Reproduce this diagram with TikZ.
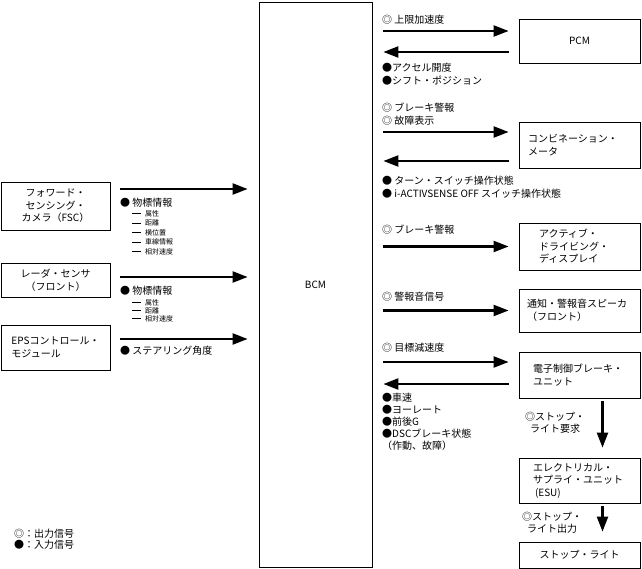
\documentclass[tikz,border=0pt]{standalone}
\usepackage{fontspec}
\setmainfont{Noto Sans CJK JP}
\usetikzlibrary{arrows.meta,positioning}
\newcommand{\subdash}{\rule[0.3em]{9pt}{0.6pt}\hspace{4pt}}

\begin{document}
\begin{tikzpicture}[
  x=1pt, y=-1pt,
  every node/.style={font=\fontsize{10}{12.5}\selectfont, inner sep=1pt},
  unit/.style={draw, line width=0.8pt, inner xsep=0pt, inner ysep=0pt},
  lbox/.style={unit, minimum width=109pt, align=center},
  rbox/.style={unit, minimum width=121pt, align=left},
  sig/.style={-{Triangle[length=15pt,width=11pt]}, line width=2.2pt},
  tobox/.style={sig, shorten <=11pt, shorten >=10pt},
  frombox/.style={sig, shorten <=10pt, shorten >=11pt},
  downsig/.style={sig, shorten <=3pt, shorten >=10pt},
  note/.style={anchor=west, align=left},
  sub/.style={anchor=north west, align=left, font=\fontsize{7}{9.5}\selectfont},
]
\useasboundingbox (0,0) rectangle (642,569);

\node[unit, minimum width=113pt, minimum height=565pt] (bcm) at (315.5,284.5) {BCM};

\node[lbox, minimum height=48pt] (fsc) at (55.5,206) {フォワード・\\センシング・\\カメラ（FSC）};
\node[lbox, minimum height=34pt] (radar) at (55.5,280) {レーダ・センサ\\（フロント）};
\node[lbox, minimum height=45pt, align=left] (eps) at (55.5,347.5) {EPSコントロール・\\モジュール};

\node[rbox, minimum height=44pt, align=center] (pcm) at (579.5,41) {PCM};
\node[rbox, minimum height=46pt, text width=103pt, inner xsep=9pt] (meter) at (579.5,145) {コンビネーション・\\メータ};
\node[rbox, minimum height=47pt, text width=81pt, inner xsep=20pt] (add) at (579.5,246.5) {アクティブ・\\ドライビング・\\ディスプレイ};
\node[rbox, minimum height=43pt, text width=105pt, inner xsep=8pt] (spk) at (579.5,310.5) {通知・警報音スピーカ\\（フロント）};
\node[rbox, minimum height=46pt, text width=93pt, inner xsep=14pt] (ebcm) at (579.5,375) {電子制御ブレーキ・\\ユニット};
\node[rbox, minimum height=45pt, text width=93pt, inner xsep=14pt] (esu) at (579.5,480.5) {エレクトリカル・\\サプライ・ユニット\\\hspace{2pt}(ESU)};
\node[rbox, minimum height=26pt, align=center] (stop) at (579.5,555) {ストップ・ライト};

\draw[frombox] ([yshift=17pt]fsc.east) -- ([yshift=17pt]fsc.east -| bcm.west);
\draw[frombox] ([yshift=3pt]radar.east) -- ([yshift=3pt]radar.east -| bcm.west);
\draw[frombox] ([yshift=8.5pt]eps.east) -- ([yshift=8.5pt]eps.east -| bcm.west);

\draw[tobox] ([yshift=10pt]pcm.west -| bcm.east) -- ([yshift=10pt]pcm.west);
\draw[frombox] ([yshift=-11pt]pcm.west) -- ([yshift=-11pt]pcm.west -| bcm.east);
\draw[tobox] ([yshift=13pt]meter.west -| bcm.east) -- ([yshift=13pt]meter.west);
\draw[frombox] ([yshift=-16pt]meter.west) -- ([yshift=-16pt]meter.west -| bcm.east);
\draw[tobox] (add.west -| bcm.east) -- (add.west);
\draw[tobox] (spk.west -| bcm.east) -- (spk.west);
\draw[tobox] ([yshift=13pt]ebcm.west -| bcm.east) -- ([yshift=13pt]ebcm.west);
\draw[frombox] ([yshift=-9pt]ebcm.west) -- ([yshift=-9pt]ebcm.west -| bcm.east);
\draw[downsig] ([xshift=23pt]ebcm.south) -- ([xshift=23pt]esu.north);
\draw[downsig] ([xshift=23pt]esu.south) -- ([xshift=23pt]stop.north);

\node[note] (fscsig) at (119,203) {● 物標情報};
\node[sub] (fscsub) at (131,209) {\subdash 属性\\\subdash 距離\\\subdash 横位置\\\subdash 車線情報\\\subdash 相対速度};
\node[note] (radarsig) at (119,291) {● 物標情報};
\node[sub, font=\fontsize{7}{8}\selectfont] (radarsub) at (131,298) {\subdash 属性\\\subdash 距離\\\subdash 相対速度};
\node[note] (epssig) at (119,351) {● ステアリング角度};

\node[note] (pcmout) at (381,20) {◎ 上限加速度};
\node[note] (pcmin) at (381,74) {●アクセル開度\\●シフト・ポジション};
\node[note] (meterout) at (381,114) {◎ ブレーキ警報\\◎ 故障表示};
\node[note] (meterin) at (381,187) {● ターン・スイッチ操作状態\\● i-ACTIVSENSE OFF スイッチ操作状態};
\node[note] (addout) at (381,230) {◎ ブレーキ警報};
\node[note] (spkout) at (381,297) {◎ 警報音信号};
\node[note] (ebcmout) at (381,348) {◎ 目標減速度};
\node[note, font=\fontsize{10}{12}\selectfont] (ebcmin) at (381,422) {●車速\\●ヨーレート\\●前後G\\●DSCブレーキ状態\\（作動、故障）};
\node[note] (esuin) at (524,423) {◎ストップ・\\\hspace{5pt}ライト要求};
\node[note] (stopin) at (521,523) {◎ストップ・\\\hspace{5pt}ライト出力};

\node[note, font=\fontsize{10}{11}\selectfont] (legend) at (13,539) {◎：出力信号\\●：入力信号};
\end{tikzpicture}
\end{document}
